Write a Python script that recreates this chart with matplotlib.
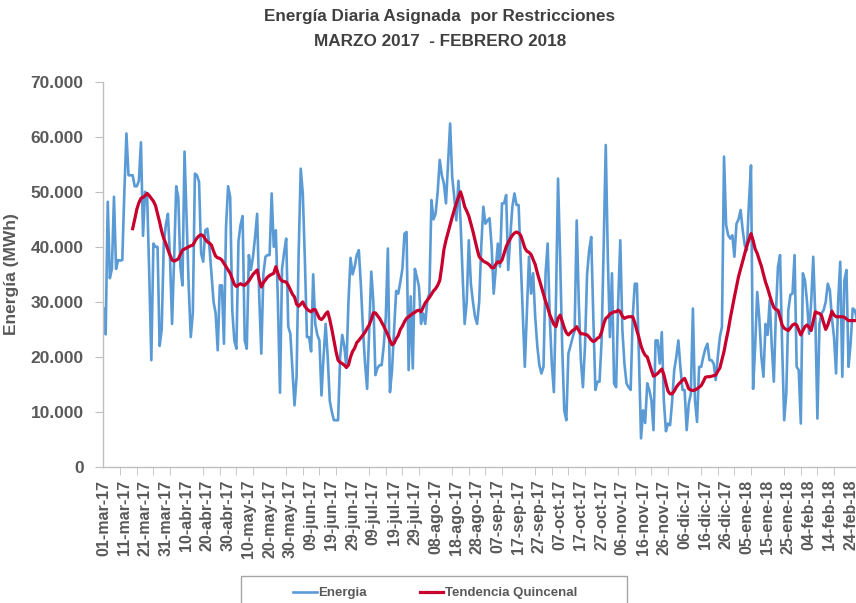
import numpy as np
import pandas as pd
import matplotlib
matplotlib.use('Agg')
import matplotlib.pyplot as plt
from matplotlib.patches import Rectangle

plt.rcParams['font.family'] = ['Liberation Sans', 'DejaVu Sans']
plt.rcParams['font.weight'] = 'bold'

# daily energy, thousands of MWh, 01-mar-17 .. 28-feb-18
energia = [
    28.8, 24.1, 48.2, 34.3, 36, 49.1, 36, 37.6, 37.5, 37.6,
    50, 60.6, 53, 53, 53, 51, 51, 52, 59, 42,
    50, 49, 35, 19.4, 40.6, 40, 40, 22, 25, 40.6,
    44, 46, 38, 26, 38, 51, 49, 36.4, 33, 57.3,
    45, 33, 23.6, 28, 53.3, 53, 51.8, 38.8, 37.3, 43,
    43.3, 40, 35, 30, 27.9, 21.2, 33, 33, 22.4, 43.6,
    51, 49, 28.5, 23, 21.5, 41, 44, 45.6, 23, 21.5,
    38.5, 35.8, 38.2, 41.8, 46, 31, 20.6, 35, 38.2, 38.5,
    38.5, 49.7, 40, 43, 30, 13.5, 36, 39, 41.5, 25.5,
    24.2, 17.6, 11.2, 16.4, 38.8, 54.2, 49.7, 37.6, 23.6, 23.6,
    21, 35, 26, 24, 23, 13, 20, 26, 20, 12,
    10, 8.5, 8.5, 8.5, 20, 24, 22, 18, 30, 38,
    35, 36.4, 38.5, 39.4, 33, 25, 18.8, 14.2, 25, 35.5,
    30, 16.7, 18, 18.5, 18.5, 22, 27.3, 39.7, 13.6, 17.6,
    25, 32, 31.5, 33.6, 36, 42.4, 42.7, 17.6, 31, 17.9,
    36, 34.5, 32.7, 26, 27.9, 26, 30.3, 31.5, 48.5, 45,
    46, 50, 55.8, 53, 51.5, 47.9, 55, 62.4, 52.7, 49,
    44.8, 52, 44.8, 35, 26, 30, 41.2, 33.3, 30, 27.3,
    26, 30, 40, 47.3, 44.2, 44.8, 45.2, 40, 31.5, 36,
    40.6, 36.4, 47.9, 47.9, 49.4, 35.8, 42, 47.3, 49.7, 47.6,
    47.6, 38, 28, 18.2, 28, 38.2, 31.5, 35.2, 27.3, 22,
    18.5, 17, 18.2, 35.2, 40.6, 27.3, 18.8, 13.6, 30, 52.4,
    38.2, 22, 10.3, 8.5, 20.6, 22, 23.5, 24.8, 44.8, 30,
    19.4, 14.5, 22, 35, 39.4, 41.8, 27.3, 14, 15.5, 15.5,
    23, 40, 58.5, 38, 23.6, 35.2, 15.2, 14.5, 30, 41.2,
    25, 18.8, 15.2, 14.5, 14, 27.3, 33.3, 33.3, 20, 5.2,
    10.3, 8, 15.2, 14, 12.1, 6.7, 23, 23, 18.8, 24.5,
    12, 6.5, 7.9, 7.6, 12, 17.6, 20, 23, 18, 14,
    14, 6.7, 11.5, 13.3, 28.8, 12.1, 8.2, 18.2, 18.2, 20,
    21.5, 22.4, 19.4, 19.4, 18.8, 15.8, 20, 23.6, 25.5, 56.4,
    44, 42.1, 41.5, 42.1, 38.2, 44.2, 45, 46.7, 43, 40.3,
    39.4, 48, 54.8, 14.2, 22, 31.8, 27, 20, 16.4, 26,
    24, 30.3, 22, 15.5, 28, 36.4, 38.5, 22, 8.5, 13.3,
    28.5, 31.3, 31.5, 38.5, 18.2, 17.6, 7.9, 35.2, 33.9, 30,
    24.2, 30, 38.2, 27.3, 8.8, 26, 27.9, 28.5, 30, 33.3,
    32.1, 27, 23.6, 17, 30, 37.3, 16.4, 33.9, 35.8, 18.2,
    22.4, 28.8, 28.5, 27, 29,
]

# fortnight trend, thousands of MWh, from 15-mar-17
tendencia = [
    43.3, 45, 46.8, 48, 48.8, 49, 49.3, 49.7, 49.3, 48.8,
    48.3, 47.5, 46, 44.5, 42.8, 41.5, 40.6, 39.5, 38.5, 37.6,
    37.4, 37.6, 37.8, 38.6, 39.4, 39.6, 39.8, 40, 40.2, 40.3,
    41, 41.6, 42, 42.2, 42, 41.4, 40.9, 40.7, 40.3, 39.2,
    38.3, 38, 37.9, 37.6, 37, 36.4, 35.8, 35.2, 34.2, 33.2,
    32.8, 33.1, 33.3, 33.1, 33, 33.4, 33.8, 34.4, 35, 35.4,
    35.8, 34, 32.7, 33.5, 34, 34.5, 34.8, 35, 35.2, 36.4,
    35.2, 34.2, 33.8, 33.7, 33.6, 33, 32.2, 31.4, 30.9, 29.6,
    29.2, 29.6, 30, 29.2, 28.7, 28.4, 28.2, 28.6, 28.6, 27.8,
    27, 26.8, 27.2, 27.8, 28.2, 26.8, 25, 23, 21, 19.4,
    19, 18.8, 18.5, 18.1, 18.5, 20, 21, 21.6, 22.6, 23,
    23.5, 24, 24.5, 25.2, 25.8, 26.8, 28, 28, 27.5, 27,
    26.3, 25.6, 24.8, 24, 23, 22.2, 22.5, 23.3, 23.9, 25,
    25.6, 26.4, 27, 27.3, 27.6, 27.9, 28.1, 28.4, 28.5, 28.2,
    29, 29.8, 30.3, 30.8, 31.4, 32, 32.4, 33, 33.9, 36.5,
    39.5, 41.2, 42.6, 44, 45.4, 46.7, 47.9, 49, 50, 48.8,
    47.3, 46.5, 45.6, 44.2, 42.8, 41.2, 39.6, 38.2, 37.8, 37.4,
    37.2, 37, 36.7, 36.2, 36.2, 36.8, 37.3, 37.1, 37.6, 38.8,
    40, 40.8, 41.5, 42.1, 42.5, 42.7, 42.5, 42.1, 41, 39.8,
    39.2, 39, 38.6, 37.7, 36.8, 35.3, 34, 32.7, 31.4, 30.1,
    29, 27.7, 26.8, 25.9, 25.5, 27, 27.6, 26.5, 25.3, 24.4,
    24, 24.4, 24.8, 25, 25.5, 24.8, 24.2, 24.2, 24.1, 24,
    23.6, 23.1, 22.8, 23, 23.4, 23.6, 24.5, 26, 27, 27.3,
    27.8, 28, 28.2, 28.2, 28.5, 28.2, 27.4, 27, 27.2, 27.3,
    27.3, 27.3, 26.2, 24.8, 23.5, 22, 21, 20.3, 20, 18.8,
    17.6, 16.5, 16.7, 17, 17.4, 17.8, 16.8, 15.2, 13.8, 13.3,
    13.3, 13.8, 14.5, 15, 15.4, 15.8, 16.1, 15.2, 14.2, 14,
    13.9, 14, 14.2, 14.5, 14.8, 15.5, 16.3, 16.4, 16.4, 16.5,
    16.6, 16.7, 17.4, 18, 19.5, 21, 23, 24.8, 27, 29,
    30.9, 32.8, 34.6, 36, 37.4, 38.8, 40.2, 41.3, 42.4, 41.2,
    39.6, 38.8, 37.6, 36.5, 35, 33.6, 32.5, 31.2, 30, 29,
    28.6, 28.5, 27.2, 25.8, 25.2, 25, 24.8, 25.3, 25.8, 26,
    25.8, 24.9, 24, 24.8, 25.5, 25.8, 25.4, 24.8, 26.5, 28.2,
    28, 27.9, 27.5, 26.2, 25, 25.8, 27, 28.3, 27.6, 27.3,
    27.3, 27.3, 27.3, 27.2, 26.9, 26.6, 26.6, 26.6, 26.6, 26.6,
    26.7,
]

fechas = pd.date_range('2017-03-01', '2018-02-28', freq='D')
meses = ['ene', 'feb', 'mar', 'abr', 'may', 'jun', 'jul', 'ago', 'sep', 'oct', 'nov', 'dic']

dias = np.arange(len(fechas))
energia = np.array(energia) * 1000
tendencia = np.array(tendencia) * 1000
dias_tend = dias[len(dias) - len(tendencia):]

fig = plt.figure(figsize=(8.56, 6.03), dpi=100)
ax = fig.add_axes([0.1203, 0.2255, 0.8797, 0.639])

ax.plot(dias, energia, color='#5b9bd5', lw=1.9, label='Energia', solid_joinstyle='round')
ax.plot(dias_tend, tendencia, color='#c8002d', lw=2.3, label='Tendencia Quincenal', solid_joinstyle='round')

ax.set_xlim(-0.3, 362.6)
ax.set_ylim(0, 70000)

gris = '#bfbfbf'
texto = '#595959'
for s in ['top', 'right']:
    ax.spines[s].set_visible(False)
for s in ['left', 'bottom']:
    ax.spines[s].set_color(gris)
    ax.spines[s].set_linewidth(1.0)

ax.set_yticks(np.arange(0, 70001, 10000))
ax.set_yticklabels([f'{v:,.0f}'.replace(',', '.') for v in np.arange(0, 70001, 10000)])
# labels every 10 days, tick marks every 8 days (as in the original)
ticks = dias[::10]
ax.set_xticks(ticks)
ax.set_xticklabels([f'{fechas[i].day:02d}-{meses[fechas[i].month - 1]}-{fechas[i].strftime("%y")}' for i in ticks],
                   rotation=90)
ax.set_xticks(dias[::8], minor=True)
ax.tick_params(axis='y', colors=gris, labelcolor=texto, labelsize=12.5, length=6, pad=8)
ax.tick_params(axis='x', which='major', colors=gris, labelcolor=texto, labelsize=11.5, length=0, pad=9)
ax.tick_params(axis='x', which='minor', colors=gris, length=6)
for t in ax.get_xticklabels() + ax.get_yticklabels():
    t.set_fontweight('bold')

ax.set_ylabel('Energía (MWh)', fontsize=12.5, fontweight='bold', color=texto, labelpad=8)

fig.text(0.514, 1 - 17 / 603, 'Energía Diaria Asignada  por Restricciones', ha='center', va='center',
         fontsize=12.3, fontweight='bold', color='#404040')
fig.text(0.514, 1 - 41 / 603, 'MARZO 2017  - FEBRERO 2018', ha='center', va='center',
         fontsize=12.3, fontweight='bold', color='#404040')

# legend box runs off the bottom of the picture
fig.patches.append(Rectangle((241 / 856, -0.05), (627 - 241) / 856, (603 - 576) / 603 + 0.05,
                             transform=fig.transFigure, fill=False, edgecolor='#a6a6a6', lw=1.0))
h, l = ax.get_legend_handles_labels()
leg = fig.legend(h, l, loc='center', bbox_to_anchor=(435 / 856, 1 - 593 / 603), ncol=2, frameon=False,
                 prop={'size': 9.5, 'weight': 'bold'}, handlelength=1.8, columnspacing=4.0, handletextpad=0.1)
for t in leg.get_texts():
    t.set_color(texto)

fig.savefig('out.png', dpi=100)
